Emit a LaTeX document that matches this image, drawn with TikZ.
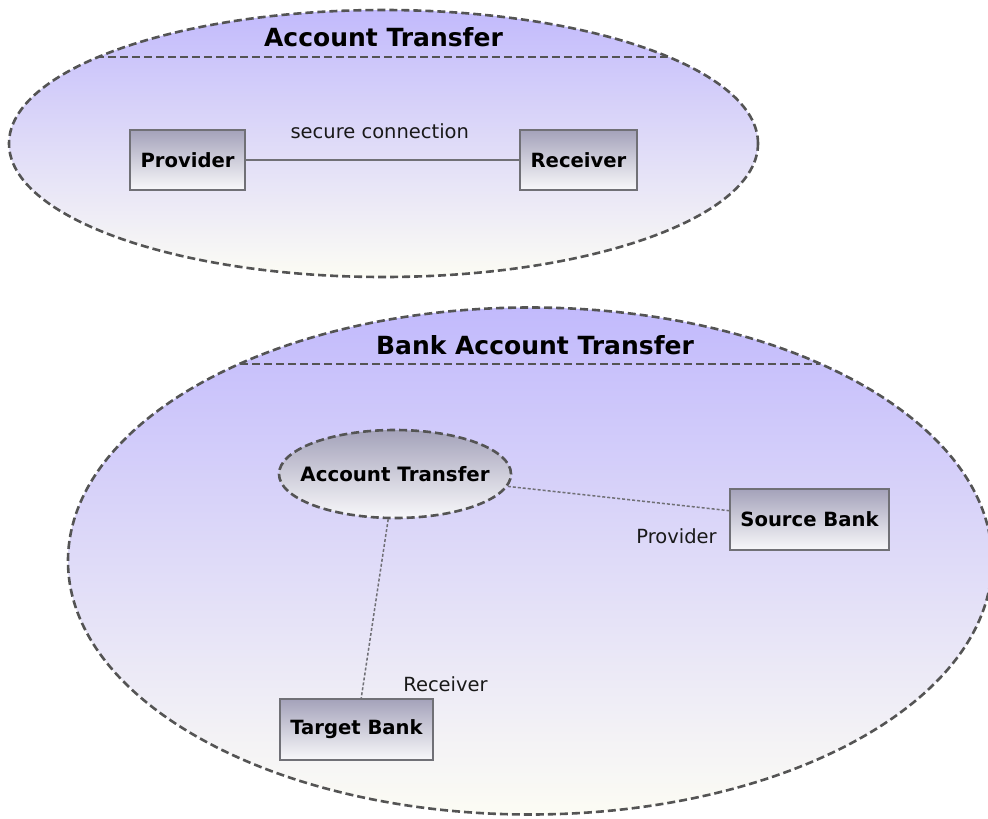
\documentclass[tikz,border=0pt]{standalone}
\usepackage{fontspec}
\setmainfont{DejaVu Sans}
\usetikzlibrary{shapes.geometric}
\definecolor{edgegray}{RGB}{84,84,84}
\definecolor{boxedge}{RGB}{112,112,118}
\definecolor{lavtop}{RGB}{194,186,252}
\definecolor{lavbot}{RGB}{252,252,244}
\definecolor{boxtop}{RGB}{164,162,186}
\definecolor{boxbot}{RGB}{248,248,250}
\tikzset{
  usecase/.style={ellipse, draw=edgegray, line width=2.6pt, dash pattern=on 8pt off 4pt,
    top color=lavtop, bottom color=lavbot, inner sep=0pt},
  innercase/.style={ellipse, draw=edgegray, line width=2.6pt, dash pattern=on 8pt off 4pt,
    top color=boxtop, bottom color=boxbot, inner sep=0pt},
  innerlabel/.style={inner sep=0pt, font=\fontsize{19.8}{23}\selectfont\bfseries},
  sep/.style={draw=edgegray, line width=2.6pt, dash pattern=on 8pt off 4pt},
  classbox/.style={rectangle, draw=boxedge, line width=1.6pt, top color=boxtop, bottom color=boxbot,
    inner sep=0pt, font=\fontsize{19.6}{23}\selectfont\bfseries},
  title/.style={font=\fontsize{25}{29}\selectfont\bfseries, inner sep=0pt},
  lbl/.style={font=\fontsize{19.5}{23}\selectfont, text=black!90, inner sep=0pt},
  solidlink/.style={draw=boxedge, line width=1.6pt},
  rolelink/.style={draw=boxedge, line width=1.5pt, dash pattern=on 3pt off 2pt}
}
\begin{document}
\begin{tikzpicture}[x=1pt,y=-1pt]
\useasboundingbox (0,0) rectangle (988,819);
% top collaboration
\node[usecase, minimum width=749, minimum height=267] (top) at (383.5,143.5) {};
\begin{scope}
  \clip (383.5,143.5) ellipse [x radius=373.5, y radius=132.5];
  \coordinate (tl) at (0,57);
  \coordinate (tr) at (988,57);
  \draw[sep] (tl) -- (tr);
\end{scope}
\node[title] (toptitle) at (383.5,37) {Account Transfer};
\node[classbox, minimum width=115, minimum height=60] (prov) at (187.5,160) {Provider};
\node[classbox, minimum width=117, minimum height=60] (recv) at (578.5,160) {Receiver};
\draw[solidlink] (prov) -- node[lbl, above=20pt, pos=0.49] (sc) {secure connection} (recv);
% bottom collaboration
\node[usecase, minimum width=924, minimum height=507] (bot) at (530,561) {};
\begin{scope}
  \clip (530,561) ellipse [x radius=461, y radius=252.5];
  \coordinate (bl) at (0,364);
  \coordinate (br) at (988,364);
  \draw[sep] (bl) -- (br);
\end{scope}
\node[title] (bottitle) at (535,345) {Bank Account Transfer};
\node[innercase, minimum width=232, minimum height=88] (acc) at (395,474) {};
\node[innerlabel] (acclbl) at (acc.center) {Account Transfer};
\node[classbox, minimum width=159, minimum height=61] (src) at (809.5,519.5) {Source Bank};
\node[classbox, minimum width=153, minimum height=61] (tgt) at (356.5,729.5) {Target Bank};
\draw[rolelink] (acc) -- (src);
\draw[rolelink] (acc) -- (tgt);
\node[lbl] (provlbl) at (676.5,536) {Provider};
\node[lbl] (recvlbl) at (445.5,684) {Receiver};
\end{tikzpicture}
\end{document}
